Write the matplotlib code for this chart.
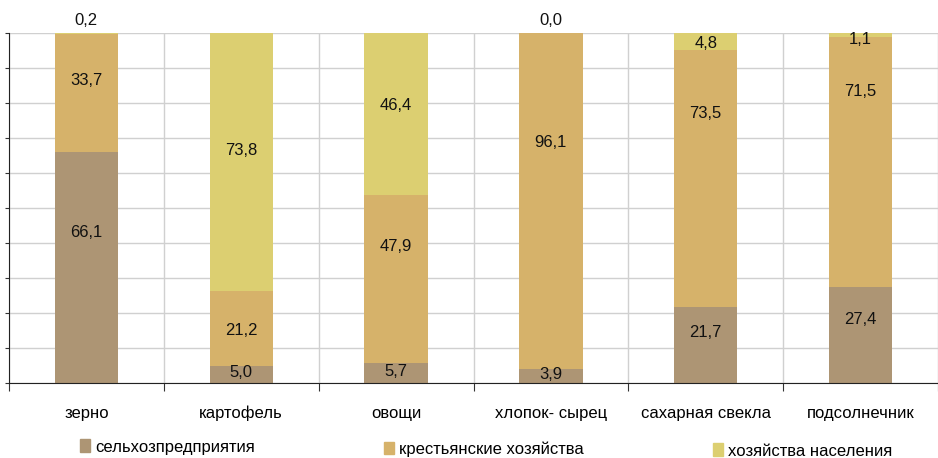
import numpy as np
import matplotlib
matplotlib.use("Agg")
import matplotlib.pyplot as plt
from matplotlib.patches import Patch

plt.rcParams['font.family'] = ['Liberation Sans', 'DejaVu Sans']

# -----------------------------
# Data
# -----------------------------
categories = ["зерно", "картофель", "овощи", "хлопок- сырец", "сахарная свекла", "подсолнечник"]
series_names = ["сельхозпредприятия", "крестьянские хозяйства", "хозяйства населения"]
agri_firms = [66.1, 5.0, 5.7, 3.9, 21.7, 27.4]
peasant_farms = [33.7, 21.2, 47.9, 96.1, 73.5, 71.5]
households = [0.2, 73.8, 46.4, 0.0, 4.8, 1.1]
label_texts = [
    ["66,1", "5,0", "5,7", "3,9", "21,7", "27,4"],
    ["33,7", "21,2", "47,9", "96,1", "73,5", "71,5"],
    ["0,2", "73,8", "46,4", "0,0", "4,8", "1,1"],
]
# where the data labels sit (in % of the axis), as placed in the original
label_heights = [
    [43.1, 3.1, 3.4, 2.3, 14.3, 18.0],
    [86.3, 15.1, 38.9, 68.6, 77.1, 83.4],
    [103.7, 66.3, 79.4, 103.7, 97.1, 98.0],
]
colors = ["#ad9574", "#d6b26a", "#dccf71"]

# -----------------------------
# Figure
# -----------------------------
fig = plt.figure(figsize=(9.38, 4.58), dpi=100)
ax = fig.add_axes([9 / 938, 1 - 383 / 458, 929 / 938, 350 / 458])

x = np.arange(len(categories))
width = 0.41
bottom = np.zeros(len(categories))
values = [agri_firms, peasant_farms, households]

for i, vals in enumerate(values):
    vals = np.array(vals)
    ax.bar(x, vals, width, bottom=bottom, color=colors[i], zorder=2)
    for j in range(len(vals)):
        ax.text(x[j], label_heights[i][j], label_texts[i][j], ha="center", va="center",
                fontsize=12, color="#111111", clip_on=False, zorder=3)
    bottom += vals

ax.set_xlim(-0.5, -0.5 + 929 / 156)
ax.set_ylim(0, 100)

# gridlines
ax.set_yticks(np.arange(0, 101, 10))
ax.set_yticklabels([])
ax.set_xticks(np.arange(-0.5, 6, 1))
ax.set_xticklabels([])
ax.grid(True, color="#d0d0d0", linewidth=1, zorder=0)
ax.tick_params(axis="y", length=3, color="#333333")
ax.tick_params(axis="x", length=6, color="#333333")

for s in ["top", "right"]:
    ax.spines[s].set_visible(False)
for s in ["left", "bottom"]:
    ax.spines[s].set_color("#222222")

for j, c in enumerate(categories):
    ax.text(x[j], -8.6, c, ha="center", va="center", fontsize=12, clip_on=False)

handles = [Patch(color=colors[i]) for i in range(3)]
leg_x = [80 / 938, 384 / 938, 713 / 938]
leg_y = [447, 449, 451]
for i in range(3):
    fig.legend([handles[i]], [series_names[i]], loc="center left",
               bbox_to_anchor=(leg_x[i], 1 - leg_y[i] / 458), frameon=False,
               fontsize=12, handlelength=0.6, handleheight=0.8,
               handletextpad=0.3, borderpad=0, borderaxespad=0)

fig.savefig("out.png", dpi=100)
